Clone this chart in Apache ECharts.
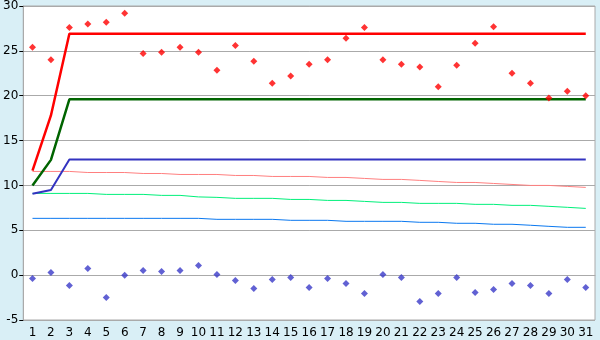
<!DOCTYPE html>
<html style="height: 100%">
<head>
  <meta charset="utf-8">
  <title>chart</title>
  <script src="https://cdn.jsdelivr.net/npm/echarts@6/dist/echarts.min.js"></script>
</head>
<body style="height: 100%; margin: 0; background: #d9eff6">
<div id="main" style="width: 600px; height: 340px"></div>

<script type="text/javascript">
  var days = [];
  for (var d = 1; d <= 31; d++) days.push(String(d));

  // upper points (red) and lower points (blue)
  var highPts = [25.4, 24.0, 27.6, 28.0, 28.2, 29.2, 24.7, 24.85, 25.4, 24.85,
    22.85, 25.6, 23.85, 21.4, 22.2, 23.5, 24.0, 26.4, 27.6, 24.0,
    23.5, 23.2, 21.0, 23.4, 25.85, 27.7, 22.5, 21.4, 19.75, 20.5, 20.0];
  var lowPts = [-0.37, 0.3, -1.15, 0.74, -2.48, 0.0, 0.52, 0.41, 0.52, 1.07,
    0.07, -0.59, -1.48, -0.48, -0.26, -1.37, -0.37, -0.93, -2.04, 0.07,
    -0.26, -2.93, -2.04, -0.26, -1.93, -1.59, -0.93, -1.15, -2.04, -0.48, -1.37];

  // thick lines: only first three days differ, then flat
  var redLine = [11.65, 17.8, 26.9, 26.9, 26.9, 26.9, 26.9, 26.9, 26.9, 26.9,
    26.9, 26.9, 26.9, 26.9, 26.9, 26.9, 26.9, 26.9, 26.9, 26.9,
    26.9, 26.9, 26.9, 26.9, 26.9, 26.9, 26.9, 26.9, 26.9, 26.9, 26.9];
  var greenLine = [10.0, 12.85, 19.6, 19.6, 19.6, 19.6, 19.6, 19.6, 19.6, 19.6,
    19.6, 19.6, 19.6, 19.6, 19.6, 19.6, 19.6, 19.6, 19.6, 19.6,
    19.6, 19.6, 19.6, 19.6, 19.6, 19.6, 19.6, 19.6, 19.6, 19.6, 19.6];
  var blueLine = [9.07, 9.5, 12.9, 12.9, 12.9, 12.9, 12.9, 12.9, 12.9, 12.9,
    12.9, 12.9, 12.9, 12.9, 12.9, 12.9, 12.9, 12.9, 12.9, 12.9,
    12.9, 12.9, 12.9, 12.9, 12.9, 12.9, 12.9, 12.9, 12.9, 12.9, 12.9];

  // thin slowly falling lines
  var pinkTrend = [11.56, 11.56, 11.56, 11.44, 11.44, 11.44, 11.33, 11.33, 11.22, 11.22,
    11.22, 11.11, 11.11, 11.0, 11.0, 11.0, 10.89, 10.89, 10.78, 10.67,
    10.67, 10.56, 10.44, 10.33, 10.33, 10.22, 10.11, 10.0, 10.0, 9.89, 9.78];
  var greenTrend = [9.11, 9.11, 9.11, 9.11, 9.0, 9.0, 9.0, 8.89, 8.89, 8.72,
    8.67, 8.56, 8.56, 8.56, 8.44, 8.44, 8.33, 8.33, 8.22, 8.11,
    8.11, 8.0, 8.0, 8.0, 7.89, 7.89, 7.78, 7.78, 7.67, 7.56, 7.44];
  var blueTrend = [6.33, 6.33, 6.33, 6.33, 6.33, 6.33, 6.33, 6.33, 6.33, 6.33,
    6.22, 6.22, 6.22, 6.22, 6.11, 6.11, 6.11, 6.0, 6.0, 6.0,
    6.0, 5.89, 5.89, 5.78, 5.78, 5.67, 5.67, 5.56, 5.44, 5.33, 5.33];

  var yTicks = [-5, 0, 5, 10, 15, 20, 25, 30];

  var chart = echarts.init(document.getElementById('main'));

  function line(data, color, width) {
    return {
      type: 'line', data: data, symbol: 'none', silent: true,
      lineStyle: { color: color, width: width }, z: 2
    };
  }
  function dots(data, color) {
    return {
      type: 'scatter', data: data, symbol: 'diamond', symbolSize: 7,
      itemStyle: { color: color }, z: 3
    };
  }

  chart.setOption({
    backgroundColor: '#d9eff6',
    animation: false,
    grid: { left: 20, right: 5, top: 5, bottom: 20, show: true, backgroundColor: '#fff', borderColor: '#aaa', borderWidth: 1 },
    textStyle: { fontFamily: 'DejaVu Sans' },
    xAxis: {
      type: 'category',
      data: days,
      boundaryGap: true,
      axisLine: { lineStyle: { color: '#aaa' } },
      axisTick: { alignWithLabel: true, length: 5, lineStyle: { color: '#000' } },
      axisLabel: { color: '#000', fontSize: 12, margin: 7, interval: 0 },
      splitLine: { show: false }
    },
    yAxis: {
      type: 'value',
      min: yTicks[0], max: yTicks[yTicks.length - 1], interval: 5,
      axisLine: { show: true, lineStyle: { color: '#aaa' } },
      axisTick: { show: true, length: 4, lineStyle: { color: '#000' } },
      axisLabel: { color: '#000', fontSize: 12, margin: 5 },
      splitLine: { lineStyle: { color: '#aaa', width: 1 } }
    },
    series: [
      line(pinkTrend, '#ff7f7f', 1),
      line(greenTrend, '#00f07a', 1),
      line(blueTrend, '#0a78f0', 1),
      line(blueLine, '#3333c0', 2),
      line(greenLine, '#006400', 2.5),
      line(redLine, '#ff0000', 2.5),
      dots(highPts, '#ff0000'),
      dots(lowPts, '#3a3ac8')
    ]
  });
</script>
</body>
</html>
